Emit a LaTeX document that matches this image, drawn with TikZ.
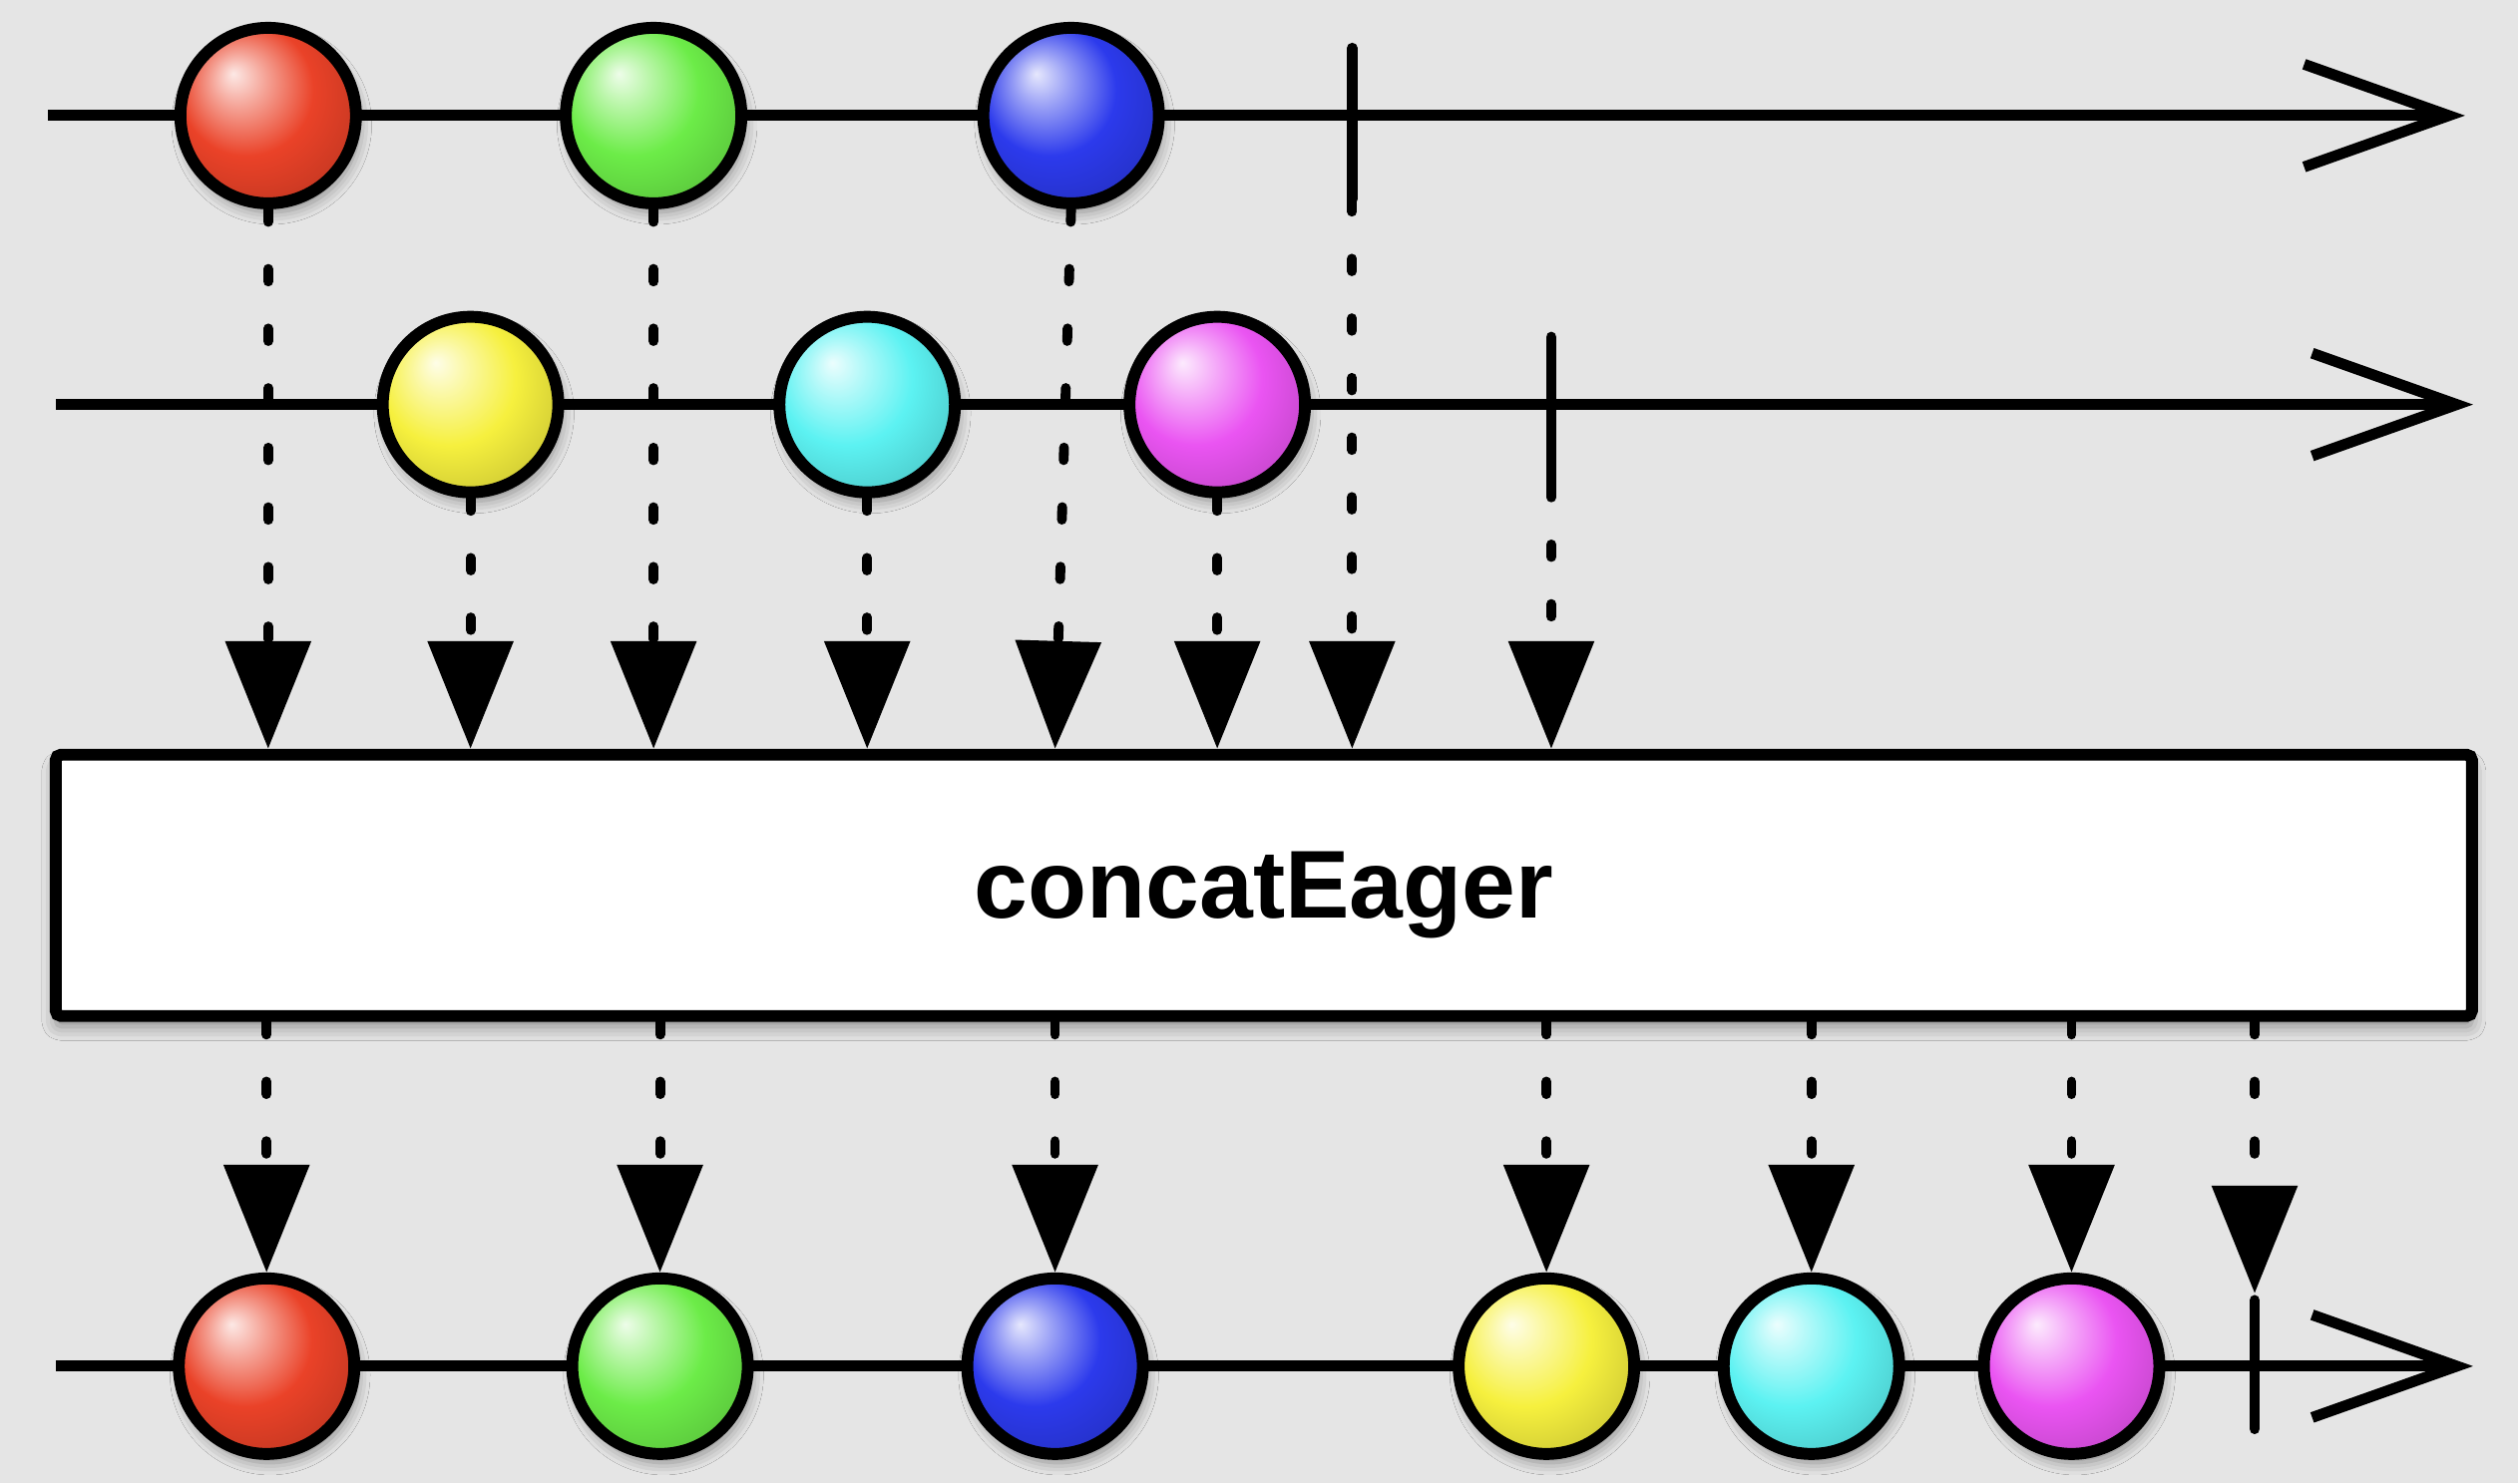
\documentclass[tikz,border=0pt]{standalone}
\usepackage{fontspec}
\setmainfont{Liberation Sans}
\usetikzlibrary{arrows.meta,shadows.blur}

\definecolor{paper}{RGB}{229,229,229}
\definecolor{mred}{RGB}{234,66,40}
\definecolor{mgreen}{RGB}{108,236,72}
\definecolor{mblue}{RGB}{44,58,236}
\definecolor{myellow}{RGB}{246,240,62}
\definecolor{mcyan}{RGB}{92,242,242}
\definecolor{mmagenta}{RGB}{234,84,242}

\makeatletter
\pgfdeclareradialshading[tikz@ball]{marble}{\pgfqpoint{-10bp}{12bp}}{%
  color(0bp)=(tikz@ball!12!white);
  color(8bp)=(tikz@ball!50!white);
  color(19bp)=(tikz@ball);
  color(29bp)=(tikz@ball!88!black);
  color(38bp)=(tikz@ball!55!black);
  color(50bp)=(tikz@ball!40!black)}
\tikzset{marble color/.code={\pgfutil@colorlet{tikz@ball}{#1}%
  \def\tikz@shading{marble}\tikz@addmode{\tikz@mode@shadetrue}}}
\makeatother

\tikzset{
  timeline/.style={line width=3.1pt,-{Straight Barb[length=1.45cm,width=1.03cm,sharp]}},
  marble/.style={circle,draw,line width=3.4pt,minimum size=1.76cm,inner sep=0pt,
    marble color=#1,blur shadow={shadow xshift=1pt,shadow yshift=-2.5pt,shadow blur radius=3.5pt}},
  endtick/.style={line width=3.1pt,line cap=round},
  flow/.style={line width=2.8pt,dash pattern=on 3.6pt off 13.4pt,line cap=round,
    -{Triangle[width=0.84cm,length=1.08cm]}},
  opbox/.style={draw,fill=white,line width=3.4pt,rounded corners=1.5pt,
    minimum width=24.22cm,minimum height=2.62cm,inner sep=0pt,text depth=0pt,
    font=\bfseries\fontsize{27.5}{32}\selectfont,
    blur shadow={shadow xshift=0pt,shadow yshift=-3pt,shadow blur radius=4pt}}
}

\begin{document}
\begin{tikzpicture}[x=0.016097cm,y=-0.016097cm]
\useasboundingbox (0,0) rectangle (1568,924);
\fill[paper] (0,0) rectangle (1568,924);

\coordinate (s1) at (30,72);
\coordinate (f1) at (1535,72);
\coordinate (s2) at (35,252);
\coordinate (f2) at (1540,252);
\coordinate (s3) at (35,851);
\coordinate (f3) at (1540,851);
\draw[timeline] (s1) -- (f1);
\draw[timeline] (s2) -- (f2);
\draw[timeline] (s3) -- (f3);

\coordinate (t1a) at (842,30);
\coordinate (t1b) at (842,124);
\coordinate (t2a) at (966,210);
\coordinate (t2b) at (966,302);
\coordinate (t3a) at (1404,810);
\coordinate (t3b) at (1404,890);
\draw[endtick] (t1a) -- (t1b);
\draw[endtick] (t2a) -- (t2b);
\draw[endtick] (t3a) -- (t3b);

\node[marble=mred] (r1) at (167,72) {};
\node[marble=mgreen] (g1) at (407,72) {};
\node[marble=mblue] (b1) at (667,72) {};

\node[marble=myellow] (y2) at (293,252) {};
\node[marble=mcyan] (c2) at (540,252) {};
\node[marble=mmagenta] (m2) at (758,252) {};

\node[opbox] (op) at (787,551.5) {concatEager};

\node[marble=mred] (o1) at (166,851) {};
\node[marble=mgreen] (o2) at (411,851) {};
\node[marble=mblue] (o3) at (657,851) {};
\node[marble=myellow] (o4) at (963,851) {};
\node[marble=mcyan] (o5) at (1128,851) {};
\node[marble=mmagenta] (o6) at (1290,851) {};

\draw[flow] (r1.south) -- (r1.south |- op.north);
\draw[flow] (y2.south) -- (y2.south |- op.north);
\draw[flow] (g1.south) -- (g1.south |- op.north);
\draw[flow] (c2.south) -- (c2.south |- op.north);
\draw[flow] (b1.south) -- (o3.north |- op.north);
\draw[flow] (m2.south) -- (m2.south |- op.north);
\draw[flow] (t1b) -- (t1b |- op.north);
\draw[flow] (t2b) -- (t2b |- op.north);

\draw[flow] (op.south -| o1.north) -- (o1.north);
\draw[flow] (op.south -| o2.north) -- (o2.north);
\draw[flow] (op.south -| o3.north) -- (o3.north);
\draw[flow] (op.south -| o4.north) -- (o4.north);
\draw[flow] (op.south -| o5.north) -- (o5.north);
\draw[flow] (op.south -| o6.north) -- (o6.north);
\draw[flow] (op.south -| t3a) -- ([yshift=2pt]t3a);
\end{tikzpicture}
\end{document}
